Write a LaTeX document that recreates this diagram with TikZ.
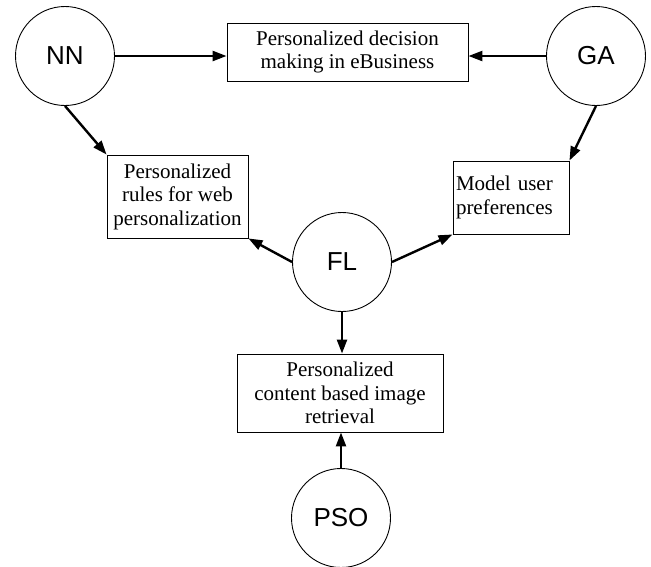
\documentclass[tikz,border=0pt]{standalone}
\usepackage{fontspec}
\setmainfont{Liberation Serif}
\newfontfamily\circfont{Liberation Sans}
\usetikzlibrary{arrows.meta}
\begin{document}
\begin{tikzpicture}[x=1pt,y=-1pt,
  tech/.style={circle,draw,line width=0.9pt,minimum size=99pt,inner sep=0pt,font=\circfont\fontsize{26}{30}\selectfont},
  box/.style={draw,line width=0.9pt,inner sep=0pt,align=center,font=\fontsize{21}{23.5}\selectfont},
  arr/.style={line width=2.4pt,-{Triangle[length=14pt,width=10pt]}}]
\useasboundingbox (0,0) rectangle (651,566);
\node[tech] (NN) at (65,56) {NN};
\node[tech] (GA) at (596,56) {GA};
\node[tech] (FL) at (342,262) {FL};
\node[tech] (PSO) at (341,518) {PSO};
\node[box,minimum width=241pt,minimum height=58pt] (tb) at (347.5,52) {Personalized decision\\making in eBusiness};
\node[box,minimum width=141pt,minimum height=83pt] (lb) at (177.5,196.5) {Personalized\\rules for web\\personalization};
\node[box,minimum height=73pt,text width=110pt,inner xsep=3pt,align=left] (rb) at (511,197.5) {Model user\\preferences};
\node[box,minimum width=206pt,minimum height=78pt] (bb) at (340,393) {Personalized\\content based image\\retrieval};
\draw[arr] (NN.east) -- (NN.east -| tb.west);
\draw[arr] (GA.west) -- (GA.west -| tb.east);
\draw[arr] (NN.south) -- (lb.north west);
\draw[arr] (GA.south) -- (rb.north east);
\draw[arr] (FL.west) -- (lb.south east);
\draw[arr] (FL.east) -- (rb.south west);
\draw[arr] (FL.south) -- (FL.south |- bb.north);
\draw[arr] (PSO.north) -- (PSO.north |- bb.south);
\end{tikzpicture}
\end{document}
